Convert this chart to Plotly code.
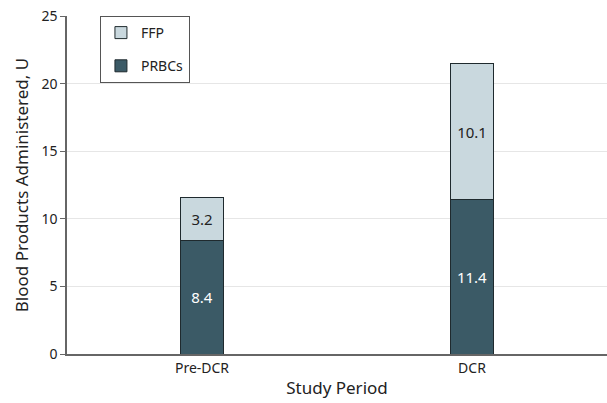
import plotly.graph_objects as go

categories = ["Pre-DCR", "DCR"]
prbc = [8.4, 11.4]
ffp = [3.2, 10.1]
y_ticks = [0, 5, 10, 15, 20, 25]

FONT = "Noto Sans"
fig = go.Figure()
fig.add_trace(go.Bar(
    x=categories, y=prbc, name="PRBCs", width=0.16, legendgroup="b",
    marker=dict(color="#3b5a66", line=dict(color="#1f2a2e", width=1)),
    text=[f"{v:.1f}" for v in prbc], textposition="inside", insidetextanchor="middle",
    textfont=dict(color="white", size=15, family=FONT), legendrank=2,
))
fig.add_trace(go.Bar(
    x=categories, y=ffp, name="FFP", width=0.16, legendgroup="a",
    marker=dict(color="#c9d8de", line=dict(color="#1f2a2e", width=1)),
    text=[f"{v:.1f}" for v in ffp], textposition="inside", insidetextanchor="middle",
    textfont=dict(color="#222", size=15, family=FONT), legendrank=1,
))
fig.update_layout(
    barmode="stack",
    width=607, height=403,
    margin=dict(l=67, r=0, t=16, b=49, autoexpand=False),
    paper_bgcolor="white", plot_bgcolor="white",
    font=dict(family=FONT, size=14, color="#222"),
    showlegend=True,
    legend=dict(x=0.061, y=1.0, xanchor="left", yanchor="top",
                bordercolor="#555", borderwidth=1, bgcolor="white",
                font=dict(size=14, family=FONT), traceorder="grouped",
                tracegroupgap=12),
    xaxis=dict(showline=True, linecolor="#666", linewidth=1.5, ticks="",
               showgrid=False, title=dict(text="Study Period", standoff=7),
               tickfont=dict(size=14)),
    yaxis=dict(range=[0, 25], tickvals=y_ticks, showline=True, linecolor="#666",
               linewidth=1.5, ticks="outside", ticklen=5, tickcolor="#666",
               gridcolor="#e6e6e6", zeroline=False,
               title=dict(text="Blood Products Administered, U", standoff=8),
               tickfont=dict(size=14)),
)
fig.write_html("out.html", config={"displayModeBar": False},
               post_script="document.body.style.margin='0px';")
